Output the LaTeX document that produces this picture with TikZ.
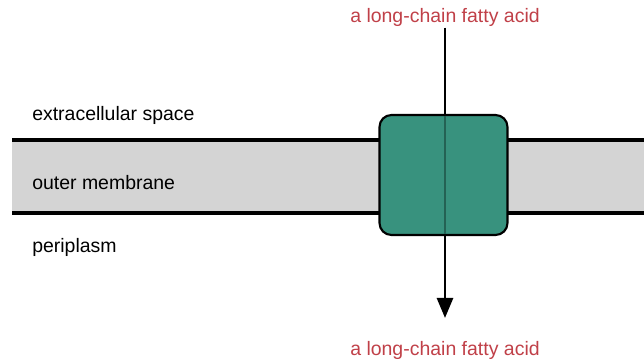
\documentclass[tikz,border=0pt]{standalone}
\usepackage{fontspec}
\setmainfont{Liberation Sans}
\usetikzlibrary{arrows.meta}
\definecolor{lblred}{RGB}{192,64,72}
\definecolor{teal1}{RGB}{56,146,126}
\definecolor{tealdark}{RGB}{36,98,84}
\definecolor{memgrey}{RGB}{212,212,212}
\tikzset{
  lbl/.style={font=\fontsize{14.6}{17}\selectfont, text=black, inner sep=0pt, anchor=west},
  cpd/.style={font=\fontsize{14.6}{17}\selectfont, text=lblred, inner sep=0pt},
  memline/.style={line width=2.3pt, black},
  porter/.style={draw=black, line width=1.6pt, fill=teal1, rounded corners=9pt, minimum width=96pt, minimum height=90pt, inner sep=0pt},
  flow/.style={line width=2pt, -{Triangle[length=15pt,width=12pt]}}
}
\begin{document}
\begin{tikzpicture}[x=0.75pt,y=-0.75pt]
\useasboundingbox (0,0) rectangle (644,363);
\fill[memgrey] (12,140) rectangle (644,213);
\coordinate (ml1) at (12,140); \coordinate (mr1) at (644,140);
\coordinate (ml2) at (12,213); \coordinate (mr2) at (644,213);
\draw[memline] (ml1) -- (mr1);
\draw[memline] (ml2) -- (mr2);
\node[lbl] (ext) at (32,115) {extracellular space};
\node[lbl] (om) at (32,183) {outer membrane};
\node[lbl] (peri) at (32,247) {periplasm};
\node[cpd] (top) at (445,17) {a long-chain fatty acid};
\node[cpd] (bot) at (445,350) {a long-chain fatty acid};
\node[porter] (tp) at (443.5,175) {};
\draw[flow, shorten <=1pt, shorten >=17pt] (top.south) -- (bot.north);
\draw[tealdark, line width=2pt, shorten <=1.2pt, shorten >=1.2pt] (tp.north -| top.south) -- (tp.south -| top.south);
\end{tikzpicture}
\end{document}
